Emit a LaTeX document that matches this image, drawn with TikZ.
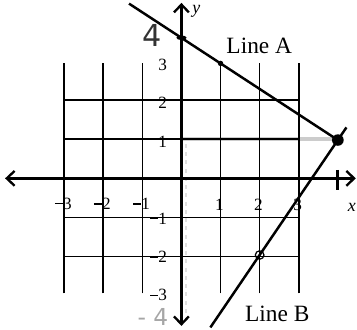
\documentclass[tikz,border=0pt]{standalone}
\usepackage{fontspec}
\setmainfont{Liberation Serif}
\newfontfamily\handfont{DejaVu Sans}
\usetikzlibrary{arrows.meta}

\newcommand{\shortminus}{\raisebox{0.28em}{\rule{0.45em}{0.07em}}\kern0.03em}

\begin{document}
\begin{tikzpicture}[
    x=1cm, y=0.98cm,
    gridline/.style={black, line width=1.2pt},
    axisline/.style={black, line width=1.7pt,
                     {Straight Barb[length=2mm, width=3.8mm]}-{Straight Barb[length=2mm, width=3.8mm]}},
    graphline/.style={black, line width=1.8pt},
    tick/.style={font=\fontsize{12.5}{14}\selectfont, inner sep=0pt},
    linelbl/.style={font=\fontsize{17}{20}\selectfont, inner sep=0pt},
    pencil/.style={gray!40, line width=3pt, line cap=round},
    faint/.style={gray!25, line width=1pt}
]
\useasboundingbox (-4.64,-3.935) rectangle (4.49,4.655);

% =========================================================
% GRID AND AXES
% =========================================================
% pencil guides under the grid
\draw[pencil] (0.05,1.03) -- (3.9,1.03);
\draw[faint] (1,2.9) -- (1,1.1);
\draw[faint] (2,-1.9) -- (2,-0.9);
\draw[faint, dashed] (0.12,0.9) -- (0.12,-3.6);

\draw[gridline] (-3,-3) grid (3,3);

\coordinate (xl) at (-4.51,0);
\coordinate (xr) at (4.46,0);
\coordinate (yb) at (0,-3.85);
\coordinate (yt) at (0,4.58);

\draw[axisline] (xl) -- (xr);
\draw[axisline] (yb) -- (yt);

\node[font=\itshape\fontsize{13}{15}\selectfont] (xlbl) at (4.36,-0.75) {x};
\node[font=\itshape\fontsize{13}{15}\selectfont] (ylbl) at (0.38,4.37) {y};

% x-axis labels: digit just right of the line for negatives
\foreach \i in {-3,-2,-1}
  \node[tick, anchor=east] (tx\i) at (\i+0.2,-0.66) {\shortminus\the\numexpr-\i\relax};
\foreach \i in {1,2,3}
  \node[tick] (tx\i) at (\i-0.03,-0.68) {\i};

% y-axis labels
\foreach \j in {3,2,1}
  \node[tick, anchor=east] (ty\j) at (-0.36,\j-0.04) {\j};
\foreach \j in {-1,-2,-3}
  \node[tick, anchor=east] (ty\j) at (-0.36,\j-0.05) {\shortminus\the\numexpr-\j\relax};

% extra tick at x = 4
\draw[black, line width=2pt] (4,0.22) -- (4,-0.3);

% =========================================================
% LINES A AND B
% =========================================================
\coordinate (Atop) at (-1.34,4.56);
\coordinate (Aend) at (4.06,0.96);
\coordinate (Btop) at (4.22,1.33);
\coordinate (Bbot) at (0.74,-3.89);
\coordinate (P) at (4,1);

\draw[graphline] (Atop) -- (Aend);
\draw[graphline] (Bbot) -- (Btop);

% marks on the lines
\fill (P) circle (0.15);
\fill (1,3) circle (0.07);
\fill (0,3.67) ellipse (0.13 and 0.06);
\draw[line width=0.9pt] (2,-2) circle (0.11);

\node[linelbl] (la) at (1.99,3.46) {Line A};
\node[linelbl] (lb) at (2.45,-3.54) {Line B};

% handwritten numbers
\node[font=\handfont\fontsize{22}{24}\selectfont, black!80] (h4) at (-0.75,3.74) {4};
\node[font=\handfont\fontsize{17}{19}\selectfont, gray!70] (hm4) at (-0.73,-3.62) {- 4};

\end{tikzpicture}
\end{document}
